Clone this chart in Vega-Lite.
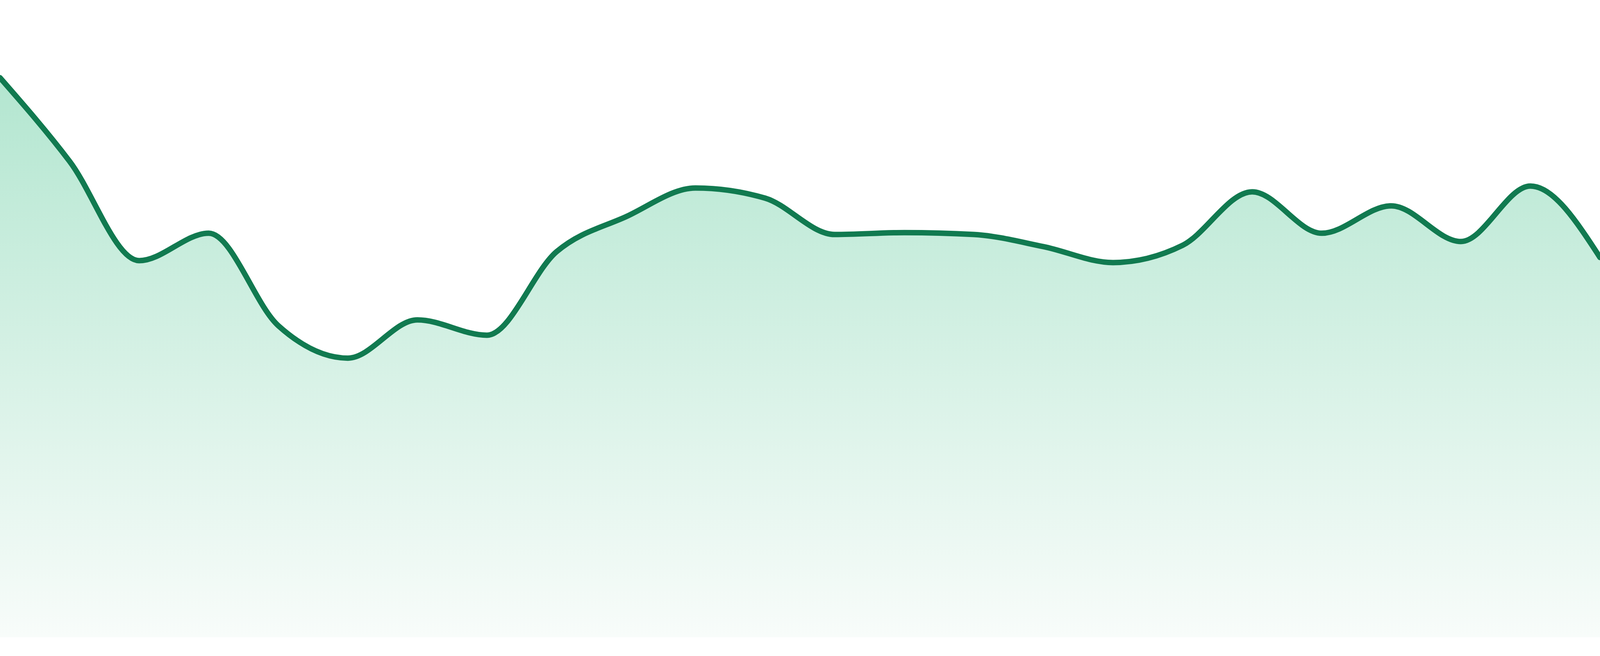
{
  "$schema": "https://vega.github.io/schema/vega-lite/v6.json",
  "autosize": {"type": "none"},
  "width": 4096,
  "height": 1632,
  "padding": 0,
  "background": "white",
  "config": {"view": {"stroke": null}},
  "data": {"values": [
    {"i": 0, "v": 87.8},
    {"i": 1, "v": 74.7},
    {"i": 2, "v": 59.1},
    {"i": 3, "v": 63.4},
    {"i": 4, "v": 48.9},
    {"i": 5, "v": 43.8},
    {"i": 6, "v": 49.8},
    {"i": 7, "v": 47.4},
    {"i": 8, "v": 60.5},
    {"i": 9, "v": 66.0},
    {"i": 10, "v": 70.5},
    {"i": 11, "v": 68.9},
    {"i": 12, "v": 63.2},
    {"i": 13, "v": 63.5},
    {"i": 14, "v": 63.2},
    {"i": 15, "v": 61.3},
    {"i": 16, "v": 58.8},
    {"i": 17, "v": 61.5},
    {"i": 18, "v": 69.9},
    {"i": 19, "v": 63.4},
    {"i": 20, "v": 67.7},
    {"i": 21, "v": 62.1},
    {"i": 22, "v": 70.8},
    {"i": 23, "v": 59.6}
  ]},
  "encoding": {
    "x": {"field": "i", "type": "quantitative", "scale": {"domain": [0, 23], "nice": false, "zero": false}, "axis": null},
    "y": {"field": "v", "type": "quantitative", "scale": {"domain": [0, 100], "nice": false}, "axis": null}
  },
  "layer": [
    {
      "mark": {
        "type": "area",
        "interpolate": "monotone",
        "fill": {
          "gradient": "linear",
          "x1": 0, "y1": 0, "x2": 0, "y2": 1,
          "stops": [
            {"offset": 0, "color": "#b3e6d0"},
            {"offset": 1, "color": "#f8fcfa"}
          ]
        }
      }
    },
    {
      "mark": {"type": "line", "interpolate": "monotone", "color": "#117a50", "strokeWidth": 14, "strokeCap": "round", "strokeJoin": "round"}
    }
  ]
}
